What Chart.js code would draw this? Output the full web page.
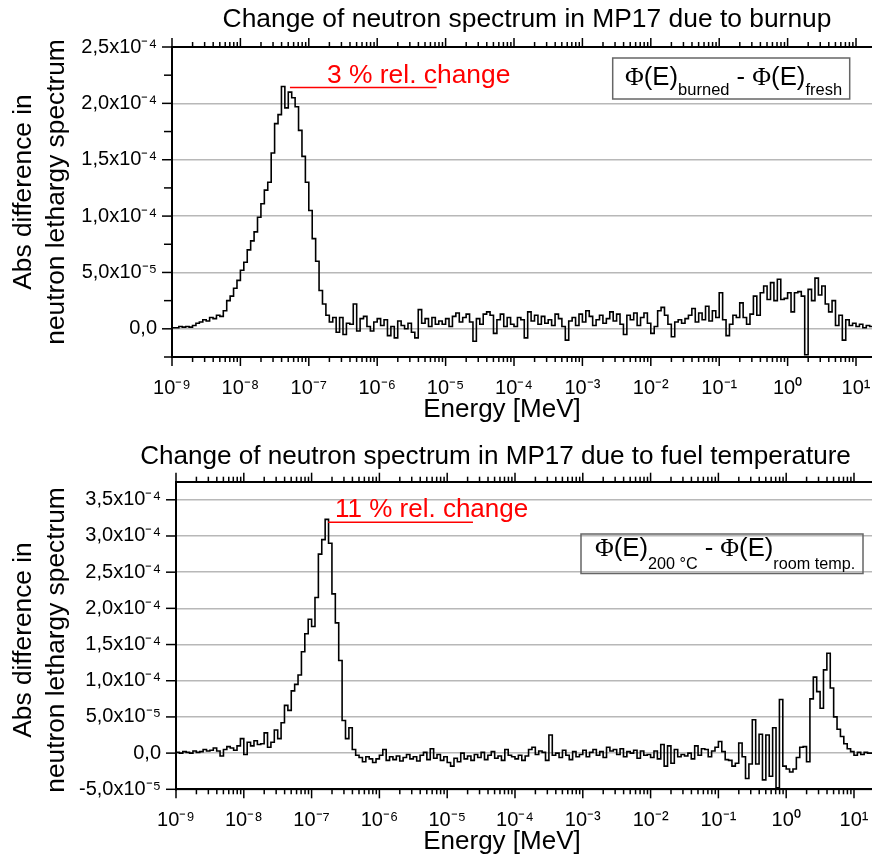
<!DOCTYPE html>
<html>
<head>
<meta charset="utf-8">
<script src="https://cdn.jsdelivr.net/npm/chart.js@4.4.1/dist/chart.umd.min.js"></script>
<style>
  html, body { margin: 0; padding: 0; background: #fff; overflow: hidden; }
  #wrap { position: relative; width: 872px; height: 857px; overflow: hidden; }
  canvas { position: absolute; left: 0; }
  #burnup { top: 0; }
  #temp { top: 428px; }
</style>
</head>
<body>
<div id="wrap">
  <canvas id="burnup" width="900" height="428"></canvas>
  <canvas id="temp" width="900" height="429"></canvas>
</div>
<script>
// energy bins: 20 per decade starting at 1e-9 MeV
const firstDecade = -9;
const binsPerDecade = 20;
const unit = 1e-5; // values below are in units of 1e-5

// Phi_burned - Phi_fresh (one row per decade)
const burnupDiff = [
  0.05, 0.1, 0.1, 0.2, 0.15, 0.2, 0.15, 0.3, 0.5, 0.6, 0.8, 0.7, 1.0, 0.9, 1.2, 1.1, 1.6, 2.5, 2.9, 3.6,
  4.3, 5.2, 5.9, 7.0, 7.8, 8.6, 9.9, 11.1, 12.3, 13.0, 15.6, 18.2, 19.0, 21.5, 19.6, 21.0, 20.5, 19.7, 17.6, 15.3,
  13.0, 10.5, 8.0, 6.0, 3.4, 2.2, 1.2, 0.6, 1.0, -0.3, 1.0, -0.5, 0.5, 0.4, 2.2, -0.2, 0.9, 1.1, 0.2, -0.2,
  0.6, 0.9, 0.3, 0.8, -0.6, 0.2, -0.8, 0.7, 0.3, 0.0, 0.5, -0.3, -0.8, 1.7, 0.5, 0.9, 0.2, 1.0, 0.4, 0.7,
  0.4, 0.9, 0.2, 1.1, 1.4, 0.6, 1.0, 1.3, 0.6, -1.1, 0.9, 0.4, 1.3, 1.5, 1.2, -0.4, 0.8, 1.3, 0.2, 1.0,
  0.4, 0.2, 1.0, 0.8, -0.8, 1.5, 0.7, 1.2, 0.4, 1.1, 0.5, 0.8, 0.3, 1.3, 0.9, 0.2, -1.0, 0.7, 1.0, 0.3,
  1.3, 0.6, 1.6, 1.1, 0.3, 0.8, 1.2, 0.5, 0.9, 1.5, 0.7, 1.3, 0.4, -0.5, 1.2, 0.8, 1.4, 0.3, 1.0, 1.4,
  0.5, -0.4, 0.2, 1.6, 1.9, 1.2, 0.4, -0.7, 0.6, 0.8, 0.5, 0.9, 1.2, 1.8, 0.6, 1.4, 0.8, 2.0, 0.7, 1.6,
  1.0, 3.2, 0.8, -0.6, 0.4, 1.2, 1.0, 2.3, 1.0, 0.4, 1.3, 2.9, 1.2, 3.2, 3.8, 2.6, 4.1, 2.5, 4.4, 2.6,
  2.7, 3.2, 1.5, 3.2, 3.3, 2.9, -2.3, 3.5, 2.5, 4.5, 3.0, 3.8, 2.2, 1.5, 2.5, 0.3, 1.2, -1.0, 0.8, 0.3,
  0.5, 0.2, 0.4, 0.1, 0.3, 0.2
];

// Phi_200C - Phi_room (one row per decade)
const tempDiff = [
  0.0, 0.1, 0.0, 0.2, 0.1, 0.0, 0.3, 0.1, 0.2, 0.5, 0.3, 0.4, 0.7, 0.3, -0.4, 0.5, 0.9, 0.7, 0.4, 1.0,
  2.0, -0.2, 1.5, 1.0, 1.7, 1.2, 1.3, 2.8, 0.8, 1.5, 3.2, 2.0, 4.2, 6.6, 5.9, 8.6, 9.5, 10.8, 14.0, 16.5,
  18.5, 17.5, 21.5, 27.5, 29.5, 32.3, 29.0, 22.0, 18.0, 12.8, 4.5, 2.0, 3.5, 0.5, -0.3, -0.6, -1.2, -0.5, -0.8, -1.3,
  -0.8, -0.3, 0.5, -1.0, -0.5, -0.9, -0.4, -1.1, -0.6, -0.2, -0.8, -0.5, -1.1, -0.3, 0.1, -0.9, 0.6, -0.7, -0.2, -1.0,
  -0.5, -1.3, -1.8, -0.7, -1.2, 0.0, -0.8, -0.4, -1.0, -0.2, -0.6, 0.1, -0.9, -0.3, 0.2, -0.7, -0.4, -1.0, 0.5, -0.3,
  -0.5, -0.8, -0.3, -1.0, -0.4, 0.5, 0.8, -0.2, 0.3, 0.1, -1.0, 2.5, -0.3, 0.0, -0.6, 0.4, -0.3, -0.9, 0.2, -0.5,
  -0.2, 0.4, -0.5, 0.1, 0.5, -0.3, 0.2, -0.6, 0.8, 0.3, 0.5, -0.2, 0.6, -0.5, 0.2, 0.0, 0.4, -0.7, 0.3, -0.3,
  -0.2, -0.6, 0.3, -0.8, 1.2, -1.8, 1.0, -1.4, 0.5, -0.5, -0.2, -0.4, 0.0, -0.8, 1.0, -0.3, 0.6, 0.5, -0.5, 0.3,
  0.8, 1.6, 0.2, -0.9, -1.0, -1.8, -1.4, 1.4, -0.5, -3.5, -1.5, 4.6, -1.5, 2.6, -3.7, 2.5, -3.2, 3.5, -4.8, 7.4,
  -1.8, -2.2, -2.6, -2.2, -0.6, 0.8, 0.9, -1.2, 7.5, 10.5, 8.5, 6.2, 11.5, 13.8, 9.0, 5.0, 3.3, 2.3, 1.3, 0.6,
  0.2, -0.3, 0.1, -0.2, 0.1, 0.0
];

// axis ranges and tick labels
const xMin = 1e-9, xMax = 20;
const xTickLabels = ['10⁻⁹', '10⁻⁸', '10⁻⁷', '10⁻⁶', '10⁻⁵', '10⁻⁴', '10⁻³', '10⁻²', '10⁻¹', '10⁰', '10¹'];
const burnupY = [0, 5e-5, 1e-4, 1.5e-4, 2e-4, 2.5e-4];
const burnupYLabels = ['0,0', '5,0x10⁻⁵', '1,0x10⁻⁴', '1,5x10⁻⁴', '2,0x10⁻⁴', '2,5x10⁻⁴'];
const tempY = [-5e-5, 0, 5e-5, 1e-4, 1.5e-4, 2e-4, 2.5e-4, 3e-4, 3.5e-4];
const tempYLabels = ['-5,0x10⁻⁵', '0,0', '5,0x10⁻⁵', '1,0x10⁻⁴', '1,5x10⁻⁴', '2,0x10⁻⁴', '2,5x10⁻⁴', '3,0x10⁻⁴', '3,5x10⁻⁴'];

// red "relative change" markers: energy span and level of the peak
const burnupNote = { text: '3 % rel. change', from: 5.3e-8, to: 7.4e-6, level: 2.14e-4 };
const tempNote = { text: '11 % rel. change', from: 1.75e-7, to: 2.4e-5, level: 3.19e-4 };

const SANS = '"Liberation Sans", Arial, sans-serif';
const SERIF = '"Liberation Serif", "Times New Roman", serif';

function toPoints(vals) {
  const pts = [];
  for (let i = 0; i <= vals.length; i++) {
    const e = Math.pow(10, firstDecade + i / binsPerDecade);
    const v = vals[Math.min(i, vals.length - 1)];
    pts.push({ x: e, y: v * unit });
  }
  return pts;
}

function isDecade(v) {
  const l = Math.log10(v);
  return Math.abs(l - Math.round(l)) < 1e-6;
}

function xTicks() {
  const t = [];
  for (let d = -9; d <= 1; d++) {
    for (let m = 1; m <= 9; m++) {
      const v = m * Math.pow(10, d);
      if (v <= xMax * 1.0001) t.push({ value: v, major: m === 1 });
    }
  }
  return t;
}

function line(ctx, x1, y1, x2, y2) {
  ctx.beginPath(); ctx.moveTo(x1, y1); ctx.lineTo(x2, y2); ctx.stroke();
}

// ticks, titles, legend box and red note
const decoPlugin = {
  id: 'deco',
  afterDraw(chart, args, o) {
    const ctx = chart.ctx, a = chart.chartArea;
    const xs = chart.scales.x, ys = chart.scales.y;
    ctx.save();
    ctx.strokeStyle = '#000';
    ctx.lineWidth = 1.5;
    xs.ticks.forEach(t => {
      const px = xs.getPixelForValue(t.value);
      const len = isDecade(t.value) ? 9 : 5;
      line(ctx, px, a.bottom, px, a.bottom + len);
      line(ctx, px, a.top, px, a.top - len);
    });
    ys.ticks.forEach(t => {
      const py = ys.getPixelForValue(t.value);
      const major = Math.abs(Math.round(t.value / 5e-5) * 5e-5 - t.value) < 1e-9;
      line(ctx, a.left - (major ? 10 : 8), py, a.left, py);
    });

    ctx.fillStyle = '#000';
    ctx.textBaseline = 'alphabetic';
    ctx.textAlign = 'center';
    ctx.font = o.title.size + 'px ' + SANS;
    ctx.fillText(o.title.text, o.title.x, o.title.y);
    ctx.font = o.xTitle.size + 'px ' + SANS;
    ctx.fillText(o.xTitle.text, o.xTitle.x, o.xTitle.y);
    ctx.font = o.yTitle.size + 'px ' + SANS;
    o.yTitle.lines.forEach((s, i) => {
      ctx.save();
      ctx.translate(o.yTitle.x[i], o.yTitle.cy);
      ctx.rotate(-Math.PI / 2);
      ctx.fillText(s, 0, 0);
      ctx.restore();
    });

    // legend box
    const b = o.box;
    ctx.strokeStyle = '#666';
    ctx.lineWidth = 1.5;
    ctx.strokeRect(b.x, b.y, b.w, b.h);
    const parts = [
      ['Φ', SERIF, b.size, 0], ['(E)', SANS, b.size, 0], [b.sub1, SANS, b.subSize, b.drop],
      [' - ', SANS, b.size, 0],
      ['Φ', SERIF, b.size, 0], ['(E)', SANS, b.size, 0], [b.sub2, SANS, b.subSize, b.drop]
    ];
    let total = 0;
    parts.forEach(p => { ctx.font = p[2] + 'px ' + p[1]; p.push(ctx.measureText(p[0]).width); total += p[4]; });
    const k = b.textWidth / total;
    let tx = b.textX;
    ctx.textAlign = 'left';
    parts.forEach(p => {
      ctx.font = (p[2] * k).toFixed(1) + 'px ' + p[1];
      ctx.fillText(p[0], tx, b.base + p[3]);
      tx += p[4] * k;
    });

    // red note
    const n = o.note;
    const ny = ys.getPixelForValue(n.level);
    ctx.strokeStyle = '#ff0000';
    ctx.lineWidth = 1.5;
    line(ctx, xs.getPixelForValue(n.from), ny, xs.getPixelForValue(n.to), ny);
    ctx.fillStyle = '#ff0000';
    ctx.font = o.noteStyle.size + 'px ' + SANS;
    ctx.fillText(n.text, o.noteStyle.x, ny - o.noteStyle.lift);
    ctx.restore();
  }
};

function makeChart(id, values, yMin, yMax, yMajor, yLabels, area, deco) {
  const canvas = document.getElementById(id);
  const H = canvas.height, W = canvas.width;
  return new Chart(canvas, {
    type: 'line',
    data: {
      datasets: [{
        data: toPoints(values),
        borderColor: '#000',
        borderWidth: 1.6,
        pointRadius: 0,
        stepped: 'after',
        fill: false
      }]
    },
    options: {
      responsive: false,
      animation: false,
      devicePixelRatio: 1,
      layout: { padding: { left: 0, top: 0, bottom: 0, right: W - area.right } },
      plugins: { legend: { display: false }, tooltip: { enabled: false }, deco: deco },
      scales: {
        x: {
          type: 'logarithmic', position: 'bottom', min: xMin, max: xMax,
          afterFit: s => { s.height = H - area.bottom; },
          afterBuildTicks: s => { s.ticks = xTicks(); },
          ticks: {
            autoSkip: false, maxRotation: 0, padding: 19, color: '#000',
            font: { family: SANS, size: 20 },
            callback: v => isDecade(v) ? xTickLabels[Math.round(Math.log10(v)) + 9] : ''
          },
          grid: { display: false, drawTicks: false },
          border: { display: true, color: '#000', width: 2 }
        },
        x2: {
          type: 'logarithmic', position: 'top', min: xMin, max: xMax,
          afterFit: s => { s.height = area.top; },
          ticks: { display: false },
          grid: { display: false, drawTicks: false },
          border: { display: true, color: '#000', width: 2 }
        },
        y: {
          type: 'linear', min: yMin, max: yMax,
          afterFit: s => { s.width = area.left; },
          afterBuildTicks: s => {
            const t = [];
            for (let k = Math.round(yMin / 2.5e-5); k <= Math.round(yMax / 2.5e-5); k++) t.push({ value: k * 2.5e-5 });
            s.ticks = t;
          },
          ticks: {
            padding: 15, color: '#000',
            font: { family: SANS, size: 20 },
            callback: v => {
              const i = yMajor.findIndex(m => Math.abs(m - v) < 1e-9);
              return i >= 0 ? yLabels[i] : '';
            }
          },
          grid: {
            drawTicks: false, lineWidth: 1.5,
            color: c => (c.tick && yMajor.some(m => Math.abs(m - c.tick.value) < 1e-9)) ? '#b8b8b8' : 'rgba(0,0,0,0)'
          },
          border: { display: true, color: '#000', width: 2 }
        }
      }
    },
    plugins: [decoPlugin]
  });
}

makeChart('burnup', burnupDiff, -2.5e-5, 2.5e-4, burnupY, burnupYLabels,
  { left: 172, top: 47, bottom: 357, right: 876.6 },
  {
    title: { text: 'Change of neutron spectrum in MP17 due to burnup', x: 527, y: 27, size: 26.4 },
    xTitle: { text: 'Energy [MeV]', x: 502, y: 417, size: 26 },
    yTitle: { lines: ['Abs difference in', 'neutron lethargy spectrum'], x: [31, 64], cy: 192, size: 26.3 },
    box: { x: 612.7, y: 58, w: 237, h: 41, base: 85, size: 25, subSize: 16, drop: 10, sub1: 'burned', sub2: 'fresh', textX: 625, textWidth: 217 },
    note: burnupNote,
    noteStyle: { x: 327, lift: 5, size: 26.4 }
  });

makeChart('temp', tempDiff, -5e-5, 3.75e-4, tempY, tempYLabels,
  { left: 176, top: 53.7, bottom: 361.3, right: 874.4 },
  {
    title: { text: 'Change of neutron spectrum in MP17 due to fuel temperature', x: 495.5, y: 36, size: 26.1 },
    xTitle: { text: 'Energy [MeV]', x: 502, y: 421, size: 26 },
    yTitle: { lines: ['Abs difference in', 'neutron lethargy spectrum'], x: [31, 64], cy: 212, size: 26.3 },
    box: { x: 581, y: 106, w: 282, h: 39.5, base: 128, size: 27, subSize: 17, drop: 13, sub1: '200 °C', sub2: 'room temp.', textX: 595, textWidth: 260 },
    note: tempNote,
    noteStyle: { x: 335, lift: 5, size: 26 }
  });
</script>
</body>
</html>
